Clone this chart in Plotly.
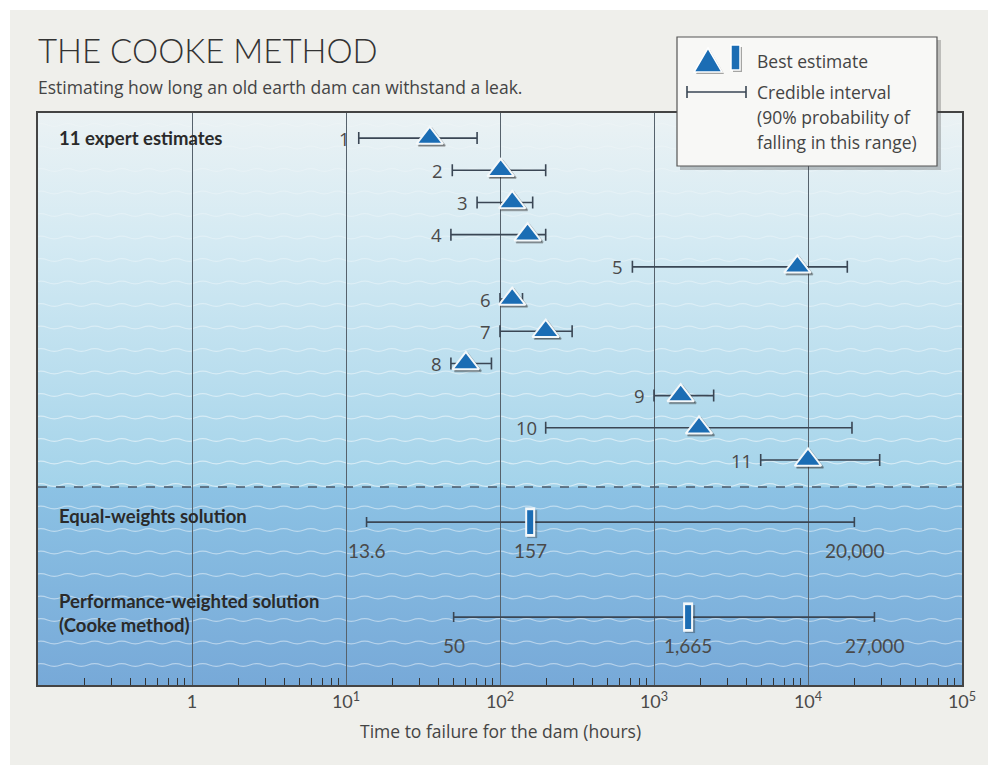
import base64
import numpy as np
import plotly.graph_objects as go

# ---------------- data ----------------
experts = ["1", "2", "3", "4", "5", "6", "7", "8", "9", "10", "11"]
best_est = [35, 101, 120, 151, 8530, 120, 198, 60, 1490, 1960, 10000]
low_est = [12.1, 49, 71, 48, 724, 100, 100, 48, 1000, 198, 4930]
high_est = [71, 198, 163, 198, 18000, 140, 294, 88, 2440, 19300, 29200]

solutions = ["Equal-weights solution", "Performance-weighted solution<br>(Cooke method)"]
sol_best = [157, 1665]
sol_low = [13.6, 50]
sol_high = [20000, 27000]

tick_vals = [1, 10, 100, 1000, 10000, 100000]
tick_text = ["1", "10<sup>1</sup>", "10<sup>2</sup>", "10<sup>3</sup>", "10<sup>4</sup>", "10<sup>5</sup>"]

# ---------------- layout constants ----------------
OFF = 8                      # page margin of the html body
W, H = 996 - OFF, 765 - OFF
PL, PR, PT, PB = 38, 962, 113, 685   # plot area in page pixels
ML, MT = PL - OFF, PT - OFF
MR, MB = W - (PR - OFF), H - (PB - OFF)
PW, PH = PR - PL, PB - PT
expert_rows = list(range(1, 12))
sol_rows = [12.93, 15.88]
divider_row = 11.84
Y_RANGE = [17.99, 0.22]
X_RANGE = [-1, 5]

BLUE = "#1b6db4"
BAR = "#3a4654"
TXT = "#444444"
FONT = "Lato, 'Open Sans', sans-serif"
OPEN = "'Open Sans', Lato, sans-serif"
NARROW = "'Liberation Sans Narrow', Lato, sans-serif"


def px(x):
    return (x - PL) / PW


def py(y):
    return (PB - y) / PH


# ---------------- background svg (gradient + waves) ----------------
split = 487 - PT
waves = []
L, A = 27.0, 2.6
yy = 12.0
while yy < PH:
    d = f"M-4,{yy:.1f} Q{-4 + L/4:.2f},{yy - A:.1f} {-4 + L/2:.2f},{yy:.1f}"
    xx = -4 + L / 2
    while xx < PW + L:
        xx += L / 2
        d += f" T{xx:.2f},{yy:.1f}"
    op = 0.15 + 0.4 * min(1, yy / split) if yy < split else 0.45
    waves.append(f'<path d="{d}" fill="none" stroke="#ffffff" stroke-opacity="{op:.2f}" stroke-width="1.3"/>')
    yy += 22.5
svg = f'''<svg xmlns="http://www.w3.org/2000/svg" width="{PW}" height="{PH}" viewBox="0 0 {PW} {PH}" preserveAspectRatio="none">
<defs>
<linearGradient id="g1" x1="0" y1="0" x2="0" y2="1">
<stop offset="0" stop-color="#ebf2f4"/>
<stop offset="0.35" stop-color="#d4eaf3"/>
<stop offset="1" stop-color="#a3d3ea"/>
</linearGradient>
<linearGradient id="g2" x1="0" y1="0" x2="0" y2="1">
<stop offset="0" stop-color="#8cc2e4"/>
<stop offset="1" stop-color="#77a9d8"/>
</linearGradient>
</defs>
<rect x="0" y="0" width="{PW}" height="{split}" fill="url(#g1)"/>
<rect x="0" y="{split}" width="{PW}" height="{PH - split}" fill="url(#g2)"/>
{''.join(waves)}
</svg>'''
svg_uri = "data:image/svg+xml;base64," + base64.b64encode(svg.encode()).decode()

fig = go.Figure()

# error bars for experts (main axes)
fig.add_trace(go.Scatter(
    x=best_est, y=expert_rows, mode="markers",
    marker=dict(size=1, color="rgba(0,0,0,0)"),
    error_x=dict(type="data", symmetric=False,
                 array=[h - b for h, b in zip(high_est, best_est)],
                 arrayminus=[b - l for b, l in zip(best_est, low_est)],
                 color=BAR, thickness=1.6, width=6),
    hoverinfo="skip", showlegend=False))
# error bars for solutions
fig.add_trace(go.Scatter(
    x=sol_best, y=sol_rows, mode="markers",
    marker=dict(size=1, color="rgba(0,0,0,0)"),
    error_x=dict(type="data", symmetric=False,
                 array=[h - b for h, b in zip(sol_high, sol_best)],
                 arrayminus=[b - l for b, l in zip(sol_best, sol_low)],
                 color=BAR, thickness=1.6, width=5),
    hoverinfo="skip", showlegend=False))

# shadows (offset axes)
fig.add_trace(go.Scatter(
    x=best_est, y=expert_rows, mode="markers", xaxis="x2", yaxis="y2",
    marker=dict(symbol="triangle-up", size=23, color="rgba(40,40,40,0.45)",
                line=dict(color="rgba(40,40,40,0.35)", width=2)),
    hoverinfo="skip", showlegend=False))
fig.add_trace(go.Scatter(
    x=sol_best, y=sol_rows, mode="markers", xaxis="x2", yaxis="y2",
    marker=dict(symbol="line-ns", size=20, line=dict(color="rgba(40,40,40,0.35)", width=10)),
    hoverinfo="skip", showlegend=False))

# triangles and bars (top axes)
fig.add_trace(go.Scatter(
    x=best_est, y=expert_rows, mode="markers", xaxis="x3", yaxis="y3",
    marker=dict(symbol="triangle-up", size=23, color=BLUE,
                line=dict(color="#f4f8fa", width=2)),
    name="Best estimate", showlegend=False))
fig.add_trace(go.Scatter(
    x=sol_best, y=sol_rows, mode="markers", xaxis="x3", yaxis="y3",
    marker=dict(symbol="line-ns", size=21, line=dict(color="#f4f8fa", width=10)),
    hoverinfo="skip", showlegend=False))
fig.add_trace(go.Scatter(
    x=sol_best, y=sol_rows, mode="markers", xaxis="x3", yaxis="y3",
    marker=dict(symbol="line-ns", size=17, line=dict(color=BLUE, width=6)),
    showlegend=False))

annotations = []
# expert numbers
for name, lo, r in zip(experts, low_est, expert_rows):
    annotations.append(dict(x=np.log10(lo), y=r, xref="x", yref="y", text=name,
                            showarrow=False, xanchor="right", yanchor="middle", xshift=-7,
                            font=dict(family=OPEN, size=18.5, color="#4a4a4a")))
# solution value labels
for lo, b, hi, r in zip(sol_low, sol_best, sol_high, sol_rows):
    for v in (lo, b, hi):
        annotations.append(dict(x=np.log10(v), y=r, xref="x", yref="y", text=f"{v:,}",
                                showarrow=False, xanchor="center", yanchor="middle", yshift=-28,
                                font=dict(family=FONT, size=19, color="#4a4a4a")))
# section labels
annotations.append(dict(x=px(57), y=expert_rows[0], xref="paper", yref="y", text="<b>11 expert estimates</b>",
                        showarrow=False, xanchor="left", yanchor="middle",
                        font=dict(family=FONT, size=18.5, color="#2a2a2a")))
for s, r, sh in zip(solutions, sol_rows, [6, 4]):
    annotations.append(dict(x=px(57), y=r, xref="paper", yref="y", text=f"<b>{s}</b>",
                            showarrow=False, xanchor="left", yanchor="middle", yshift=sh, align="left",
                            font=dict(family=NARROW, size=18.5, color="#2a2a2a")))
# title & subtitle
annotations.append(dict(x=px(36), y=py(50), xref="paper", yref="paper", text="THE COOKE METHOD",
                        showarrow=False, xanchor="left", yanchor="middle",
                        font=dict(family=FONT, size=33, color="#333333", weight=300)))
annotations.append(dict(x=px(36), y=py(87), xref="paper", yref="paper",
                        text="Estimating how long an old earth dam can withstand a leak.",
                        showarrow=False, xanchor="left", yanchor="middle",
                        font=dict(family=OPEN, size=17.5, color=TXT)))
# axis title
annotations.append(dict(x=px(500), y=py(731), xref="paper", yref="paper",
                        text="Time to failure for the dam (hours)", showarrow=False,
                        xanchor="center", yanchor="middle",
                        font=dict(family=OPEN, size=17.5, color=TXT)))
# legend texts
for t, yv in [("Best estimate", 61), ("Credible interval", 92),
              ("(90% probability of", 117), ("falling in this range)", 142)]:
    annotations.append(dict(x=px(755), y=py(yv), xref="paper", yref="paper", text=t,
                            showarrow=False, xanchor="left", yanchor="middle",
                            font=dict(family=OPEN, size=17.5, color=TXT)))

shapes = []
# white outer strips
shapes.append(dict(type="rect", xref="paper", yref="paper", x0=px(0), x1=px(996), y0=py(10), y1=py(OFF),
                   fillcolor="white", line=dict(width=0), layer="below"))
shapes.append(dict(type="rect", xref="paper", yref="paper", x0=px(OFF), x1=px(10), y0=py(765), y1=py(OFF),
                   fillcolor="white", line=dict(width=0), layer="below"))
# divider
shapes.append(dict(type="line", xref="paper", yref="y", x0=0, x1=1, y0=divider_row, y1=divider_row,
                   line=dict(color="#4a5868", width=1.6, dash="dash"), layer="above"))
# legend box
shapes.append(dict(type="rect", xref="paper", yref="paper", x0=px(680), x1=px(941), y0=py(170), y1=py(40),
                   fillcolor="rgba(60,60,60,0.28)", line=dict(width=0), layer="above"))
shapes.append(dict(type="rect", xref="paper", yref="paper", x0=px(677), x1=px(937), y0=py(166), y1=py(37),
                   fillcolor="#f8f8f6", line=dict(color="#555555", width=1.2), layer="above"))
# legend icons
tri = f"M{px(708)},{py(48)} L{px(722)},{py(72)} L{px(694)},{py(72)} Z"
tri_s = f"M{px(710)},{py(50)} L{px(724)},{py(74)} L{px(696)},{py(74)} Z"
shapes.append(dict(type="path", xref="paper", yref="paper", path=tri_s,
                   fillcolor="rgba(40,40,40,0.4)", line=dict(width=0), layer="above"))
shapes.append(dict(type="path", xref="paper", yref="paper", path=tri,
                   fillcolor=BLUE, line=dict(color="white", width=1.5), layer="above"))
shapes.append(dict(type="rect", xref="paper", yref="paper", x0=px(733), x1=px(742), y0=py(72), y1=py(47),
                   fillcolor="rgba(40,40,40,0.4)", line=dict(width=0), layer="above"))
shapes.append(dict(type="rect", xref="paper", yref="paper", x0=px(731), x1=px(740), y0=py(70), y1=py(45),
                   fillcolor=BLUE, line=dict(color="white", width=1.5), layer="above"))
shapes.append(dict(type="line", xref="paper", yref="paper", x0=px(687), x1=px(746), y0=py(92), y1=py(92),
                   line=dict(color=BAR, width=1.6), layer="above"))
for xe in (687, 746):
    shapes.append(dict(type="line", xref="paper", yref="paper", x0=px(xe), x1=px(xe), y0=py(86), y1=py(98),
                       line=dict(color=BAR, width=1.6), layer="above"))

minor_vals = [k * 10.0 ** d for d in range(-1, 5) for k in range(2, 10)]
dx = 2.0 / PW * (X_RANGE[1] - X_RANGE[0])
dy = 2.0 / PH * (Y_RANGE[0] - Y_RANGE[1])

fig.update_layout(
    width=W, height=H,
    margin=dict(l=ML, r=MR, t=MT, b=MB, pad=0),
    paper_bgcolor="#efefeb", plot_bgcolor="rgba(0,0,0,0)",
    showlegend=False,
    xaxis=dict(type="log", range=X_RANGE, tickvals=tick_vals, ticktext=tick_text,
               showgrid=True, gridcolor="#56626c", gridwidth=1,
               showline=True, linecolor="#444444", linewidth=1.6, mirror=True,
               ticks="", zeroline=False,
               tickfont=dict(family=FONT, size=18, color="#4a4a4a"),
               minor=dict(tickvals=minor_vals, ticks="inside", ticklen=7, tickwidth=1,
                          tickcolor="#333333", showgrid=False)),
    yaxis=dict(range=Y_RANGE, showgrid=False, showticklabels=False, zeroline=False,
               showline=True, linecolor="#444444", linewidth=1.6, mirror=True, ticks=""),
    xaxis2=dict(type="log", range=[X_RANGE[0] - dx, X_RANGE[1] - dx], overlaying="x", visible=False),
    yaxis2=dict(range=[Y_RANGE[0] - dy, Y_RANGE[1] - dy], overlaying="y", visible=False),
    xaxis3=dict(type="log", range=X_RANGE, overlaying="x", visible=False),
    yaxis3=dict(range=Y_RANGE, overlaying="y", visible=False),
    images=[dict(source=svg_uri, xref="paper", yref="paper", x=0, y=1, sizex=1, sizey=1,
                 xanchor="left", yanchor="top", sizing="stretch", layer="below")],
    annotations=annotations,
    shapes=shapes,
)

fig.write_html("out.html")
